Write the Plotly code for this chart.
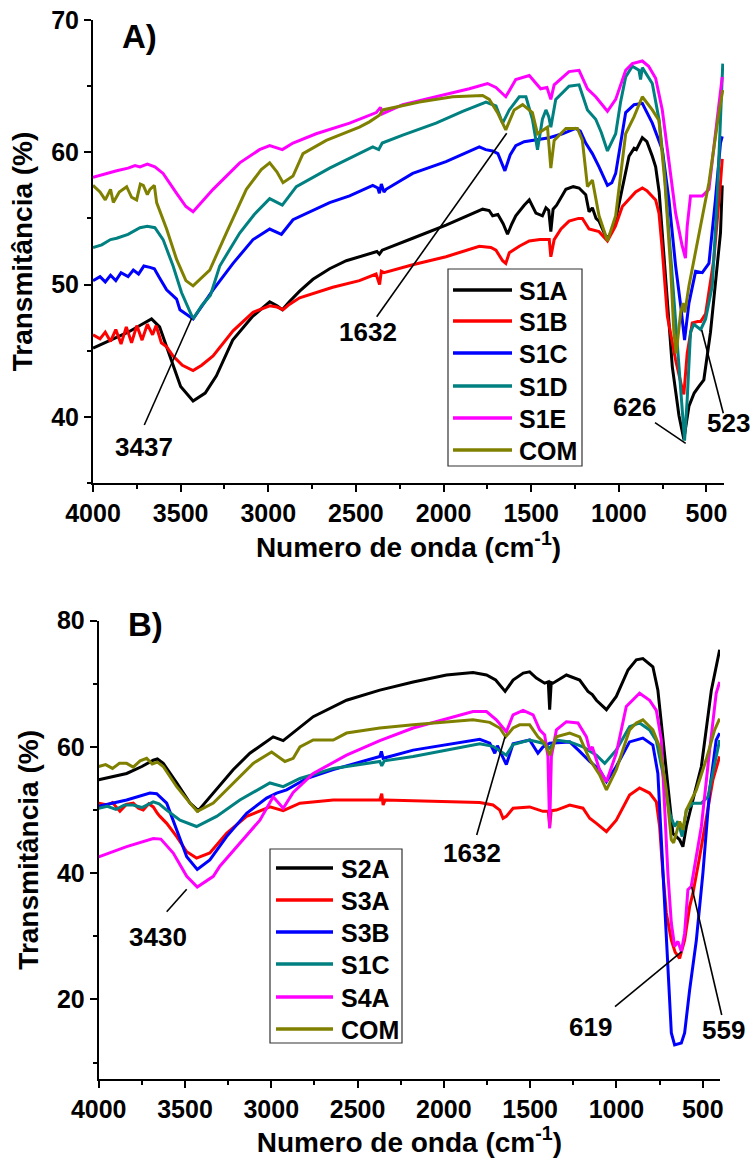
import plotly.graph_objects as go

W, H = 753, 1158
FONT = "Liberation Sans, Arial, sans-serif"

# ---------------- Panel A data ----------------
a_names = ["S1A", "S1B", "S1C", "S1D", "S1E", "COM"]
a_colors = ["#000000", "#FF0000", "#0000FF", "#008080", "#FF00FF", "#808000"]

a_S1A_x = [4000, 3900, 3800, 3720, 3666, 3620, 3552, 3500, 3429, 3360, 3296, 3203, 3089, 2992, 2950, 2920, 2880, 2821, 2745, 2650, 2555, 2380, 2366, 2350, 2176, 1986, 1777, 1740, 1720, 1690, 1660, 1635, 1610, 1588, 1540, 1511, 1473, 1436, 1416, 1400, 1388, 1375, 1355, 1302, 1260, 1227, 1189, 1170, 1151, 1130, 1113, 1080, 1065, 1040, 1018, 980, 942, 913, 900, 866, 840, 809, 790, 770, 752, 723, 695, 657, 629, 600, 570, 543, 515, 477, 449, 420, 410]
a_S1A_y = [45.2, 45.8, 46.4, 47.0, 47.4, 46.8, 44.3, 42.3, 41.2, 41.8, 43.1, 45.8, 47.6, 48.7, 48.4, 48.1, 48.7, 49.5, 50.4, 51.2, 51.8, 52.5, 52.3, 52.6, 53.5, 54.5, 55.7, 55.6, 55.2, 55.3, 54.6, 53.8, 54.6, 55.2, 56.0, 56.4, 55.4, 55.2, 55.8, 55.6, 54.0, 55.7, 56.0, 57.2, 57.4, 57.3, 56.8, 55.5, 55.8, 55.0, 54.8, 53.8, 53.5, 54.0, 54.9, 57.2, 59.7, 60.3, 60.2, 61.1, 60.8, 59.7, 58.9, 57.0, 53.9, 48.9, 43.8, 40.1, 38.3, 40.8, 41.8, 42.3, 42.8, 46.4, 50.1, 53.9, 57.5]

a_S1B_x = [4000, 3960, 3930, 3900, 3870, 3840, 3810, 3780, 3750, 3720, 3690, 3660, 3640, 3610, 3580, 3543, 3490, 3429, 3380, 3315, 3201, 3087, 2992, 2950, 2916, 2880, 2821, 2745, 2632, 2480, 2385, 2365, 2355, 2340, 2176, 1986, 1796, 1730, 1701, 1663, 1645, 1625, 1568, 1511, 1450, 1397, 1388, 1369, 1330, 1284, 1230, 1208, 1170, 1113, 1065, 1020, 980, 904, 866, 840, 809, 790, 771, 752, 723, 676, 638, 629, 610, 581, 550, 533, 505, 458, 420, 410]
a_S1B_y = [46.2, 45.9, 46.4, 45.7, 46.6, 45.5, 46.8, 45.6, 46.9, 45.8, 47.0, 46.2, 46.9, 45.6, 45.3, 44.6, 43.9, 43.5, 43.9, 44.6, 46.5, 47.9, 48.4, 48.3, 48.1, 48.5, 49.0, 49.3, 49.8, 50.3, 50.8, 50.0, 51.0, 50.9, 51.5, 52.1, 52.9, 52.8, 52.6, 51.8, 51.6, 52.4, 52.9, 53.3, 53.4, 53.4, 52.1, 53.4, 54.2, 54.8, 55.0, 55.0, 54.2, 54.0, 53.3, 54.4, 55.9, 57.0, 57.3, 57.1, 56.7, 56.4, 55.4, 52.6, 47.6, 44.3, 42.1, 41.7, 44.8, 47.1, 47.2, 47.2, 47.8, 51.9, 57.7, 59.5]

a_S1C_x = [4000, 3960, 3930, 3900, 3870, 3840, 3800, 3770, 3740, 3710, 3675, 3650, 3620, 3580, 3523, 3504, 3429, 3353, 3315, 3201, 3087, 2992, 2925, 2859, 2727, 2650, 2536, 2404, 2375, 2366, 2355, 2340, 2328, 2176, 1986, 1796, 1760, 1720, 1690, 1650, 1620, 1588, 1540, 1493, 1440, 1397, 1322, 1246, 1220, 1189, 1151, 1113, 1065, 1040, 1018, 990, 961, 913, 866, 809, 771, 752, 714, 676, 647, 625, 600, 562, 524, 486, 449, 420, 410]
a_S1C_y = [50.3, 50.6, 50.2, 50.7, 50.3, 50.9, 50.6, 51.1, 50.8, 51.4, 51.3, 51.2, 50.5, 49.6, 48.9, 48.1, 47.4, 48.9, 49.6, 51.6, 53.4, 54.2, 53.8, 54.9, 55.7, 56.2, 56.7, 57.5, 57.3, 56.9, 57.6, 57.0, 57.2, 58.4, 59.3, 60.4, 60.2, 60.1, 59.9, 58.6, 59.8, 60.5, 60.8, 60.9, 61.0, 61.1, 61.4, 61.8, 61.6, 60.7, 59.9, 58.9, 57.5, 57.7, 58.4, 60.8, 63.0, 63.6, 63.7, 62.2, 60.9, 60.2, 56.4, 51.4, 48.4, 45.8, 48.6, 51.0, 50.9, 51.6, 56.4, 60.7, 61.2]

a_S1D_x = [4000, 3950, 3900, 3865, 3800, 3732, 3690, 3647, 3600, 3543, 3495, 3429, 3380, 3330, 3277, 3163, 3080, 2992, 2920, 2840, 2650, 2404, 2370, 2350, 2233, 2043, 1891, 1853, 1758, 1701, 1663, 1625, 1568, 1530, 1493, 1464, 1436, 1416, 1400, 1388, 1360, 1284, 1227, 1179, 1132, 1100, 1065, 1018, 990, 961, 923, 885, 876, 866, 809, 771, 742, 714, 686, 657, 638, 625, 610, 591, 572, 533, 505, 467, 439, 420, 407]
a_S1D_y = [52.8, 53.0, 53.4, 53.5, 53.8, 54.3, 54.4, 54.3, 53.4, 51.4, 49.4, 47.4, 48.4, 49.2, 51.4, 53.9, 55.3, 56.5, 56.0, 57.4, 58.8, 60.4, 60.2, 60.7, 61.3, 62.2, 63.1, 63.3, 63.8, 63.5, 62.2, 63.2, 64.2, 64.2, 62.5, 60.2, 62.5, 63.2, 62.7, 61.9, 64.0, 65.0, 65.1, 63.2, 62.5, 61.5, 60.1, 61.4, 63.8, 65.7, 66.5, 66.2, 65.5, 66.4, 65.2, 62.5, 58.9, 53.9, 48.9, 43.8, 40.8, 38.2, 41.3, 46.4, 47.0, 46.6, 47.4, 49.9, 56.4, 62.0, 66.7]

a_S1E_x = [4000, 3950, 3900, 3865, 3800, 3760, 3732, 3690, 3647, 3600, 3523, 3470, 3429, 3380, 3315, 3163, 3050, 2992, 2920, 2859, 2727, 2536, 2423, 2384, 2360, 2350, 2233, 2043, 1853, 1749, 1701, 1645, 1588, 1511, 1475, 1446, 1410, 1388, 1369, 1284, 1227, 1179, 1132, 1065, 1018, 961, 923, 866, 830, 790, 752, 714, 676, 640, 620, 610, 591, 524, 486, 439, 410]
a_S1E_y = [58.1, 58.3, 58.5, 58.6, 58.8, 59.0, 58.9, 59.1, 58.9, 58.4, 56.9, 55.9, 55.5, 56.2, 57.2, 59.2, 60.2, 60.5, 60.2, 60.7, 61.4, 62.2, 62.8, 63.0, 63.4, 62.9, 63.6, 64.2, 64.8, 65.2, 64.9, 64.2, 65.5, 65.8, 65.2, 64.8, 64.9, 64.0, 65.1, 66.1, 66.2, 64.8, 64.2, 63.1, 64.0, 66.2, 66.7, 66.9, 66.5, 65.6, 63.2, 59.4, 55.4, 53.0, 52.0, 54.4, 56.7, 56.7, 57.2, 62.5, 65.7]

a_COM_x = [4000, 3960, 3930, 3900, 3884, 3850, 3808, 3780, 3751, 3730, 3713, 3690, 3675, 3650, 3637, 3580, 3523, 3470, 3429, 3334, 3239, 3125, 3040, 2992, 2950, 2916, 2859, 2802, 2669, 2480, 2423, 2366, 2347, 2138, 1948, 1777, 1739, 1692, 1645, 1597, 1549, 1493, 1464, 1440, 1407, 1388, 1369, 1302, 1236, 1208, 1179, 1151, 1113, 1065, 1018, 961, 913, 866, 809, 771, 737, 705, 686, 673, 647, 634, 623, 600, 543, 486, 429, 407]
a_COM_y = [57.5, 57.0, 56.4, 57.2, 56.2, 57.0, 57.4, 56.6, 56.4, 57.6, 57.5, 56.8, 57.2, 57.5, 56.2, 54.2, 51.9, 50.3, 49.9, 51.1, 53.9, 57.2, 58.7, 59.2, 58.5, 57.7, 58.2, 59.9, 60.9, 61.9, 62.3, 62.8, 63.2, 63.8, 64.2, 64.3, 64.0, 63.0, 61.7, 63.2, 63.6, 63.0, 61.4, 61.6, 61.9, 58.8, 60.9, 61.8, 61.8, 60.9, 57.4, 57.9, 55.2, 53.3, 55.2, 61.4, 62.7, 64.2, 63.2, 62.4, 57.7, 51.4, 46.4, 44.8, 47.9, 48.6, 47.9, 49.9, 53.9, 57.7, 63.0, 64.7]

# ---------------- Panel B data ----------------
b_names = ["S2A", "S3A", "S3B", "S1C", "S4A", "COM"]
b_colors = ["#000000", "#FF0000", "#0000FF", "#008080", "#FF00FF", "#808000"]

b_S2A_x = [4000, 3900, 3838, 3750, 3684, 3660, 3626, 3548, 3471, 3423, 3336, 3221, 3124, 2989, 2931, 2854, 2757, 2564, 2371, 2178, 1985, 1831, 1753, 1700, 1645, 1599, 1540, 1503, 1464, 1416, 1395, 1387, 1378, 1368, 1290, 1213, 1165, 1140, 1116, 1058, 1001, 933, 885, 847, 789, 760, 731, 702, 673, 653, 634, 615, 595, 557, 508, 450, 422, 402]
b_S2A_y = [54.8, 55.4, 55.8, 56.9, 57.9, 58.1, 57.4, 54.3, 51.1, 49.9, 52.7, 56.4, 59.0, 61.6, 61.0, 62.7, 64.8, 67.4, 69.0, 70.3, 71.4, 71.8, 71.4, 70.6, 68.8, 70.6, 71.7, 71.9, 70.9, 70.1, 70.3, 65.9, 70.2, 70.1, 71.4, 70.6, 68.8, 68.3, 67.4, 65.9, 68.0, 72.2, 73.8, 74.0, 72.7, 69.0, 61.1, 53.2, 46.3, 45.8, 45.3, 44.2, 47.4, 51.6, 56.9, 69.0, 72.7, 75.4]

b_S3A_x = [4000, 3950, 3920, 3877, 3840, 3800, 3770, 3742, 3710, 3684, 3660, 3645, 3606, 3548, 3490, 3433, 3356, 3259, 3143, 3008, 2931, 2834, 2641, 2371, 2360, 2352, 2340, 2178, 1985, 1792, 1715, 1676, 1657, 1638, 1599, 1503, 1426, 1395, 1387, 1378, 1348, 1271, 1194, 1155, 1116, 1058, 1001, 924, 866, 808, 769, 750, 731, 711, 682, 660, 634, 605, 576, 557, 518, 480, 441, 402]
b_S3A_y = [51.1, 50.8, 51.2, 49.8, 50.9, 51.1, 50.3, 50.0, 51.0, 50.5, 49.5, 49.0, 47.9, 45.8, 43.4, 42.4, 43.2, 46.3, 49.0, 50.5, 49.9, 51.1, 51.6, 51.6, 52.6, 50.8, 51.6, 51.5, 51.3, 51.2, 50.8, 50.0, 48.7, 49.0, 50.3, 50.5, 49.8, 49.8, 47.4, 49.9, 50.0, 50.8, 50.3, 48.7, 47.9, 46.6, 48.4, 52.4, 53.5, 52.7, 51.3, 47.4, 40.0, 33.7, 29.4, 27.5, 26.5, 29.4, 34.7, 36.8, 42.6, 48.4, 54.8, 58.5]

b_S3B_x = [4000, 3838, 3703, 3664, 3606, 3548, 3490, 3429, 3356, 3259, 3143, 3027, 2969, 2911, 2796, 2641, 2371, 2362, 2352, 2178, 1985, 1792, 1734, 1705, 1690, 1650, 1638, 1599, 1503, 1455, 1426, 1387, 1271, 1213, 1155, 1098, 1058, 1001, 924, 847, 789, 760, 740, 721, 702, 682, 663, 624, 605, 576, 537, 499, 460, 422, 402]
b_S3B_y = [50.6, 51.6, 52.7, 52.6, 51.1, 46.9, 42.6, 40.6, 42.1, 45.8, 49.5, 51.9, 52.7, 53.2, 55.0, 56.4, 58.5, 59.3, 58.2, 59.5, 60.3, 61.2, 60.6, 59.0, 60.2, 58.0, 57.2, 60.5, 61.1, 59.0, 60.0, 60.6, 60.8, 59.3, 57.7, 56.4, 54.5, 56.9, 60.8, 61.4, 60.3, 55.8, 45.3, 34.7, 24.2, 14.7, 12.8, 13.1, 14.7, 21.5, 29.4, 40.0, 53.2, 61.1, 62.2]

b_S1C_x = [4000, 3950, 3900, 3850, 3800, 3750, 3684, 3650, 3606, 3529, 3433, 3317, 3182, 3008, 2931, 2834, 2641, 2371, 2360, 2345, 2178, 1985, 1792, 1715, 1657, 1638, 1599, 1503, 1426, 1387, 1348, 1271, 1194, 1116, 1068, 1001, 924, 866, 808, 769, 731, 692, 663, 644, 619, 595, 557, 508, 470, 441, 402]
b_S1C_y = [50.3, 50.6, 50.1, 50.8, 50.8, 50.4, 51.3, 51.0, 50.0, 48.4, 47.4, 49.0, 51.6, 54.3, 53.7, 55.0, 56.6, 57.7, 57.0, 57.8, 58.5, 59.5, 60.5, 60.1, 59.0, 58.7, 60.4, 61.1, 60.6, 59.8, 61.1, 60.8, 60.0, 58.7, 57.4, 59.5, 63.2, 63.8, 62.7, 61.0, 55.8, 49.5, 47.4, 48.2, 45.8, 50.0, 51.1, 51.1, 52.1, 55.8, 61.1]

b_S4A_x = [4000, 3838, 3684, 3640, 3568, 3490, 3429, 3336, 3298, 3182, 3066, 2989, 2931, 2873, 2757, 2564, 2371, 2178, 1985, 1831, 1753, 1696, 1638, 1599, 1541, 1483, 1445, 1416, 1397, 1387, 1377, 1348, 1290, 1223, 1174, 1155, 1140, 1098, 1058, 1001, 943, 866, 808, 769, 740, 721, 702, 682, 663, 644, 624, 605, 586, 567, 553, 508, 460, 422, 402]
b_S4A_y = [42.6, 44.2, 45.5, 45.4, 43.2, 39.5, 37.8, 39.5, 41.1, 44.8, 48.4, 52.1, 50.3, 52.8, 55.8, 58.7, 61.0, 63.0, 64.5, 65.6, 65.6, 64.3, 62.4, 65.1, 65.8, 65.1, 62.7, 61.9, 58.5, 47.1, 58.5, 62.7, 64.0, 63.8, 61.6, 59.5, 60.0, 56.4, 54.5, 59.0, 66.4, 68.5, 67.4, 65.8, 61.1, 50.5, 40.0, 32.1, 28.4, 29.2, 27.6, 30.5, 37.4, 37.9, 40.0, 47.4, 59.5, 68.5, 70.3]

b_COM_x = [4000, 3960, 3920, 3880, 3838, 3800, 3760, 3722, 3690, 3660, 3626, 3548, 3471, 3429, 3336, 3221, 3105, 2998, 2921, 2873, 2834, 2757, 2641, 2564, 2371, 2178, 1985, 1831, 1734, 1676, 1642, 1599, 1561, 1503, 1455, 1416, 1387, 1348, 1271, 1213, 1155, 1098, 1058, 1001, 924, 885, 847, 789, 750, 711, 682, 669, 634, 615, 595, 537, 480, 431, 402]
b_COM_y = [56.9, 57.2, 56.6, 57.4, 57.4, 56.8, 57.8, 58.2, 57.3, 57.6, 56.9, 53.7, 51.1, 49.8, 51.1, 54.3, 57.4, 59.2, 57.7, 58.2, 60.0, 61.1, 61.1, 62.2, 63.0, 63.5, 64.0, 64.3, 63.9, 63.0, 61.6, 63.0, 63.5, 63.5, 61.6, 60.6, 58.7, 61.6, 62.2, 61.6, 58.0, 55.6, 53.2, 56.4, 62.7, 63.8, 64.3, 62.7, 60.0, 53.2, 45.3, 44.8, 48.2, 46.9, 50.0, 53.2, 58.0, 62.7, 64.5]

x_ticks = [4000, 3500, 3000, 2500, 2000, 1500, 1000, 500]

a_series = [(a_S1A_x, a_S1A_y), (a_S1B_x, a_S1B_y), (a_S1C_x, a_S1C_y),
            (a_S1D_x, a_S1D_y), (a_S1E_x, a_S1E_y), (a_COM_x, a_COM_y)]
b_series = [(b_S2A_x, b_S2A_y), (b_S3A_x, b_S3A_y), (b_S3B_x, b_S3B_y),
            (b_S1C_x, b_S1C_y), (b_S4A_x, b_S4A_y), (b_COM_x, b_COM_y)]

fig = go.Figure()
for (xs, ys), n, c in zip(a_series, a_names, a_colors):
    fig.add_trace(go.Scatter(x=xs, y=ys, mode="lines", name=n, showlegend=False,
                             line=dict(color=c, width=3), xaxis="x", yaxis="y"))
for (xs, ys), n, c in zip(b_series, b_names, b_colors):
    fig.add_trace(go.Scatter(x=xs, y=ys, mode="lines", name=n, showlegend=False,
                             line=dict(color=c, width=3), xaxis="x2", yaxis="y2"))

def px(x):
    return x / W

def py(y):
    return 1 - y / H

tickfont = dict(family=FONT, size=25, color="black", weight="bold")
titlefont = dict(family=FONT, size=28, color="black", weight="bold")

def xaxis(domain, anchor):
    return dict(domain=domain, anchor=anchor, range=[4000, 400], tickvals=x_ticks,
                automargin=False,
                showline=True, linecolor="black", linewidth=2, ticks="outside",
                ticklen=7, tickwidth=2, tickcolor="black", showgrid=False, zeroline=False,
                tickfont=tickfont,
                minor=dict(dtick=250, tick0=0, ticks="outside", ticklen=4, tickwidth=2, tickcolor="black", showgrid=False),
                title=dict(text="Numero de onda (cm<sup>-1</sup>)", font=titlefont, standoff=8))

def yaxis(domain, anchor, rng, dtick, mdtick):
    return dict(domain=domain, anchor=anchor, range=rng, dtick=dtick, tick0=0,
                automargin=False,
                showline=True, linecolor="black", linewidth=2, ticks="outside",
                ticklen=7, tickwidth=2, tickcolor="black", showgrid=False, zeroline=False,
                tickfont=tickfont,
                minor=dict(dtick=mdtick, tick0=0, ticks="outside", ticklen=4, tickwidth=2, tickcolor="black", showgrid=False),
                title=dict(text="Transmitância (%)", font=titlefont, standoff=10))

fig.update_layout(
    width=W, height=H, plot_bgcolor="white", paper_bgcolor="white",
    margin=dict(l=0, r=0, t=0, b=0, autoexpand=False),
    xaxis=xaxis([px(93), px(724)], "y"),
    yaxis=yaxis([py(483), py(20)], "x", [35, 70], 10, 5),
    xaxis2=xaxis([px(98.7), px(720)], "y2"),
    yaxis2=yaxis([py(1079), py(620.7)], "x2", [7.4, 80], 20, 10),
)

shapes = []
annots = []

def text(x, y, t, size=26, xanchor="center"):
    annots.append(dict(x=px(x), y=py(y), xref="paper", yref="paper", text=t, showarrow=False,
                       xanchor=xanchor, yanchor="middle",
                       font=dict(family=FONT, size=size, color="black", weight="bold")))

def seg(x0, y0, x1, y1, color="black", width=1.6):
    shapes.append(dict(type="line", xref="paper", yref="paper", x0=px(x0), y0=py(y0),
                       x1=px(x1), y1=py(y1), line=dict(color=color, width=width)))

# panel labels
text(139.5, 36, "A)", size=33)
text(145.5, 624, "B)", size=33)

# peak annotations panel A
text(144, 447, "3437"); seg(144.3, 425, 191.7, 318.3)
text(368, 332, "1632"); seg(376.7, 316.7, 506.7, 133.3)
text(634.5, 407, "626"); seg(655, 422.7, 685.7, 443.3)
text(728, 423, "523"); seg(723.3, 413.3, 701.7, 330)

# peak annotations panel B
text(158, 937, "3430"); seg(166.7, 911.7, 186.7, 889.3)
text(472, 853, "1632"); seg(476.7, 835, 505, 736.7)
text(590, 1027, "619"); seg(615, 1006.7, 681.7, 951.7)
text(723.5, 1030, "559"); seg(721.7, 1015, 691.7, 886.7)

# custom legends
def legend(box, rows, line_x, text_x, names, colors):
    x0, y0, x1, y1 = box
    shapes.append(dict(type="rect", xref="paper", yref="paper", x0=px(x0), y0=py(y1),
                       x1=px(x1), y1=py(y0), line=dict(color="#333333", width=1.2),
                       fillcolor="white", layer="above"))
    for r, n, c in zip(rows, names, colors):
        seg(line_x[0], r, line_x[1], r, color=c, width=3.5)
        text(text_x, r + 1, n, size=25, xanchor="left")

legend((448, 269, 582, 466), [290, 321, 353, 386, 418, 450], (453, 512), 517, a_names, a_colors)
legend((270, 849, 402, 1043), [868, 900, 932, 964, 997, 1029], (276, 333), 339, b_names, b_colors)

fig.update_layout(shapes=shapes, annotations=annots)
fig.write_html("out.html", config={"displayModeBar": False},
               post_script="document.body.style.margin='0px';document.body.style.overflow='hidden';")
